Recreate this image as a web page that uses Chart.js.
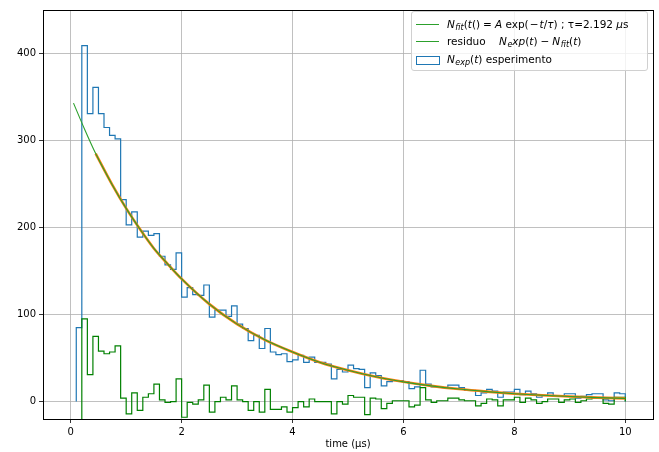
<!DOCTYPE html>
<html>
<head>
<meta charset="utf-8">
<script src="https://cdn.jsdelivr.net/npm/chart.js@4.4.0/dist/chart.umd.min.js"></script>
<style>
  html, body { margin: 0; padding: 0; background: #fff; }
  #wrap { position: relative; width: 659px; height: 452px; }
  .legend {
    position: absolute; left: 411px; top: 11px; width: 237px; height: 60px;
    box-sizing: border-box; border: 1px solid #d0d0d0; border-radius: 3px;
    background: rgba(255, 255, 255, 0.8);
    font-family: "DejaVu Sans"; font-size: 10.5px; color: #000;
  }
  .row { position: absolute; left: 0; right: 0; height: 0; }
  .hline { position: absolute; left: 4px; width: 23px; top: -1px; height: 0; border-top: 1.3px solid #2ca02c; }
  .hbox { position: absolute; left: 4px; width: 22px; top: -4px; height: 7px; border: 1.3px solid #1f77b4; }
  .txt { position: absolute; left: 35px; top: -7px; line-height: 12px; white-space: nowrap; }
  .txt i { font-style: italic; }
  .txt sub { font-size: 8px; line-height: 0; vertical-align: -2px; font-style: italic; margin-left: 0.5px; }
  .op { margin: 0 3px; }
  .sm { margin: 0 1px; }
</style>
</head>
<body>
<div id="wrap">
  <canvas id="chart" width="659" height="452"></canvas>
  <div class="legend">
    <div class="row" style="top:13px"><div class="hline"></div>
      <div class="txt"><i>N</i><sub>fit</sub>(<i>t</i>()<span class="op">=</span><i>A</i> exp(<span class="sm">−</span><i>t</i>/<i>τ</i>) ; τ=2.192 <i>μ</i>s</div></div>
    <div class="row" style="top:30px"><div class="hline"></div>
      <div class="txt">residuo&nbsp;&nbsp;&nbsp;&nbsp;<i>N</i><sub>e</sub><i>xp</i>(<i>t</i>)<span class="op">−</span><i>N</i><sub>fit</sub>(<i>t</i>)</div></div>
    <div class="row" style="top:48px"><div class="hbox"></div>
      <div class="txt"><i>N</i><sub>exp</sub>(<i>t</i>) esperimento</div></div>
  </div>
</div>
<script>
// histogram bins: 0.1 .. 10.0, width 0.1
const BIN_START = 0.1;
const BIN_WIDTH = 0.1;

// counts of the experiment (blue), one per bin
const expCounts = [
  85, 409, 331, 361, 331, 315, 306, 302, 232, 203,
  218, 189, 196, 191, 193, 167, 157, 152, 171, 120,
  131, 123, 122, 134, 97, 105, 105, 98, 110, 89,
  84, 70, 76, 61, 84, 57, 54, 55, 46, 48,
  53, 45, 51, 45, 45, 43, 26, 37, 34, 42,
  38, 37, 16, 33, 30, 18, 23, 24, 24, 23,
  15, 17, 36, 20, 17, 17, 16, 19, 19, 16,
  13, 13, 7, 10, 14, 12, 5, 11, 11, 14,
  8, 12, 9, 5, 7, 10, 7, 6, 9, 9,
  4, 6, 8, 9, 9, 2, 1, 10, 9
];

// residual (green), same bins; first bin falls far below the axis
const residCounts = [
  -243, 95, 31, 75, 58, 55, 57, 64, 4, -14,
  10, -10, 5, 9, 20, 2, -1, 0, 26, -18,
  -1, -3, 2, 19, -12, 0, 5, 2, 18, 2,
  0, -10, 0, -12, 14, -9, -9, -6, -12, -7,
  0, -6, 3, 0, 0, 0, -14, 0, -3, 7,
  5, 5, -15, 4, 3, -8, -2, 1, 1, 1,
  -6, -4, 16, 2, -1, 1, 1, 4, 4, 2,
  1, 1, -5, -2, 3, 2, -5, 2, 2, 5,
  -1, 4, 2, -2, 0, 3, 3, -1, 2, 3,
  -1, 1, 3, 4, 4, -2, -3, 5, 5
];

// fit curve
const fitT = [0.05, 0.25, 0.45, 0.75, 1.0, 1.25, 1.5, 1.75, 2.0, 2.5, 3.0, 3.5, 4.0, 4.5, 5.0, 5.5, 6.0, 6.5, 7.0, 7.5, 8.0, 8.5, 9.0, 9.5, 10.0];
const fitN = [343, 313, 285, 249, 222, 198, 176, 158, 141, 112, 89, 71, 57, 45, 36, 28.5, 22.7, 18.1, 14.4, 11.5, 9.1, 7.3, 5.8, 4.6, 3.7];
const ORANGE_FROM = 0.45;

const xTicks = [0, 2, 4, 6, 8, 10];
const yTicks = [0, 100, 200, 300, 400];

function edge(k) {
  return Math.round((BIN_START + k * BIN_WIDTH) * 1000) / 1000;
}

function stepPoints(counts, startY) {
  const pts = [];
  if (startY !== null) pts.push({ x: edge(0), y: startY });
  counts.forEach((c, k) => pts.push({ x: edge(k), y: c }));
  pts.push({ x: edge(counts.length), y: 0 });
  return pts;
}

const fitPoints = fitT.map((t, i) => ({ x: t, y: fitN[i] }));
const orangePoints = fitPoints.filter(p => p.x >= ORANGE_FROM);

const frame = {
  id: 'frame',
  afterDatasetsDraw(chart) {
    const { ctx, chartArea: a } = chart;
    ctx.save();
    ctx.strokeStyle = '#000';
    ctx.lineWidth = 1;
    ctx.strokeRect(Math.round(a.left) + 0.5, Math.round(a.top) + 0.5,
      Math.round(a.right - a.left), Math.round(a.bottom - a.top));
    ctx.restore();
  }
};

Chart.defaults.font.family = 'DejaVu Sans';
Chart.defaults.font.size = 10;
Chart.defaults.color = '#000';

const gridOpts = { color: '#b0b0b0', lineWidth: 0.8, tickColor: '#000', tickLength: 4, drawTicks: true };

new Chart(document.getElementById('chart'), {
  type: 'line',
  data: {
    datasets: [
      { label: 'fit', data: fitPoints, borderColor: '#2ca02c', borderWidth: 1.1, cubicInterpolationMode: 'monotone', order: 0, clip: 0 },
      { label: 'fit2', data: orangePoints, borderColor: '#ff7f0e', borderWidth: 2.6, cubicInterpolationMode: 'monotone', order: 1, clip: 0 },
      { label: 'residuo', data: stepPoints(residCounts, null), borderColor: '#008000', borderWidth: 1.2, stepped: true, order: 2, clip: 0 },
      { label: 'esperimento', data: stepPoints(expCounts, 0), borderColor: '#1f77b4', borderWidth: 1.2, stepped: true, order: 3, clip: 0 }
    ]
  },
  options: {
    responsive: false,
    animation: false,
    devicePixelRatio: 1,
    elements: { point: { radius: 0 } },
    layout: { padding: { top: 10, right: 6, left: 0, bottom: 0 } },
    plugins: { legend: { display: false }, tooltip: { enabled: false } },
    scales: {
      x: {
        type: 'linear', min: -0.5, max: 10.5,
        afterBuildTicks: s => { s.ticks = xTicks.map(v => ({ value: v })); },
        afterFit: s => { s.height = 33; },
        grid: gridOpts,
        border: { display: false },
        ticks: { padding: 3, maxRotation: 0 },
        title: { display: true, text: 'time (μs)', padding: { top: 0, bottom: 2 } }
      },
      y: {
        type: 'linear', min: -20, max: 450,
        afterBuildTicks: s => { s.ticks = yTicks.map(v => ({ value: v })); },
        afterFit: s => { s.width = 43; },
        grid: gridOpts,
        border: { display: false },
        ticks: { padding: 3 }
      }
    }
  },
  plugins: [frame]
});
</script>
</body>
</html>
